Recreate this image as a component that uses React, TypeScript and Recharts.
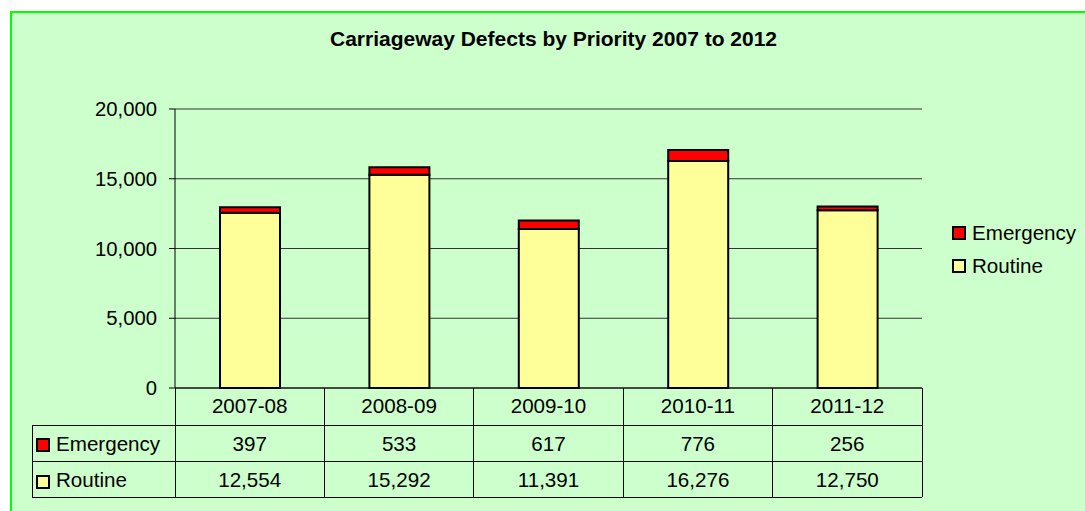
import { BarChart, Bar, XAxis, YAxis, CartesianGrid } from 'recharts';

const years = ['2007-08', '2008-09', '2009-10', '2010-11', '2011-12'];
const emergency = [397, 533, 617, 776, 256];
const routine = [12554, 15292, 11391, 16276, 12750];
const yTicks = [0, 5000, 10000, 15000, 20000];

const data = years.map((y, i) => ({ year: y, Emergency: emergency[i], Routine: routine[i] }));

const FONT = '"Liberation Sans", Arial, sans-serif';
const W = 1085;
const H = 511;
const PLOT_LEFT = 175;
const PLOT_RIGHT = 922;
const PLOT_TOP = 109;
const PLOT_BOTTOM = 388;
const BAND = (PLOT_RIGHT - PLOT_LEFT) / years.length;
const ROW1 = 425;
const ROW2 = 461;
const ROW3 = 497;
const LABEL_LEFT = 32;

const fmt = (v: number) => v.toLocaleString('en-US');

function Swatch({ x, y, fill }: { x: number; y: number; fill: string }) {
  return <rect x={x} y={y} width={12} height={12} fill={fill} stroke="#000" strokeWidth={2} />;
}

function TableTick(props: any) {
  const { x, payload, index } = props;
  const l = x - BAND / 2;
  const r = x + BAND / 2;
  const line = { stroke: '#000', strokeWidth: 1, shapeRendering: 'crispEdges' as const };
  return (
    <g fontFamily={FONT} fontSize={20.6} fill="#000">
      <line x1={l} y1={PLOT_BOTTOM} x2={l} y2={ROW3} {...line} />
      <line x1={r} y1={PLOT_BOTTOM} x2={r} y2={ROW3} {...line} />
      <line x1={l} y1={ROW1} x2={r} y2={ROW1} {...line} />
      <line x1={l} y1={ROW2} x2={r} y2={ROW2} {...line} />
      <line x1={l} y1={ROW3} x2={r} y2={ROW3} {...line} />
      <text x={x} y={413} textAnchor="middle">{payload.value}</text>
      <text x={x} y={451} textAnchor="middle">{fmt(emergency[index])}</text>
      <text x={x} y={487} textAnchor="middle">{fmt(routine[index])}</text>
      {index === 0 && (
        <g>
          <line x1={LABEL_LEFT} y1={ROW1} x2={l} y2={ROW1} {...line} />
          <line x1={LABEL_LEFT} y1={ROW2} x2={l} y2={ROW2} {...line} />
          <line x1={LABEL_LEFT} y1={ROW3} x2={l} y2={ROW3} {...line} />
          <line x1={LABEL_LEFT} y1={ROW1} x2={LABEL_LEFT} y2={ROW3} {...line} />
          <Swatch x={37} y={439} fill="#FF0000" />
          <text x={56} y={451}>Emergency</text>
          <Swatch x={37} y={476} fill="#FFFF99" />
          <text x={56} y={487}>Routine</text>
        </g>
      )}
    </g>
  );
}

function SideLegend() {
  const items = [
    { name: 'Emergency', color: '#FF0000' },
    { name: 'Routine', color: '#FFFF99' },
  ];
  return (
    <div style={{ position: 'absolute', left: 952, top: 216, fontFamily: FONT, fontSize: 20.6, color: '#000' }}>
      {items.map((it) => (
        <div key={it.name} style={{ display: 'flex', alignItems: 'center', height: 33 }}>
          <span
            style={{
              display: 'inline-block',
              width: 10,
              height: 10,
              background: it.color,
              border: '2px solid #000',
              marginRight: 6,
            }}
          />
          {it.name}
        </div>
      ))}
    </div>
  );
}

export default function App() {
  return (
    <div style={{ position: 'fixed', left: 0, top: 0, width: W, height: H, background: '#fff', overflow: 'hidden' }}>
      <div
        style={{
          position: 'absolute',
          left: 10,
          top: 11,
          width: 1100,
          height: 520,
          background: '#CCFFCC',
          border: '2px solid #00FF00',
        }}
      />
      <div
        style={{
          position: 'absolute',
          left: 0,
          top: 27,
          width: 1107,
          textAlign: 'center',
          fontFamily: FONT,
          fontSize: 21,
          fontWeight: 'bold',
          color: '#000',
        }}
      >
        Carriageway Defects by Priority 2007 to 2012
      </div>
      <div style={{ position: 'absolute', left: 0, top: 0 }}>
        <BarChart
          width={W}
          height={H}
          data={data}
          margin={{ top: PLOT_TOP, right: W - PLOT_RIGHT, left: 0, bottom: 0 }}
        >
          <CartesianGrid vertical={false} stroke="#333" strokeWidth={1} />
          <XAxis
            dataKey="year"
            height={H - PLOT_BOTTOM}
            axisLine={{ stroke: '#000' }}
            tickLine={false}
            tickSize={0}
            tickMargin={0}
            interval={0}
            tick={<TableTick />}
          />
          <YAxis
            width={PLOT_LEFT}
            domain={[0, 20000]}
            ticks={yTicks}
            tickFormatter={fmt}
            axisLine={{ stroke: '#000' }}
            tickLine={{ stroke: '#000' }}
            tickSize={6}
            tickMargin={12}
            tick={{ fill: '#000', fontSize: 20.3, fontFamily: FONT }}
          />
          <Bar dataKey="Routine" stackId="a" fill="#FFFF99" stroke="#000" strokeWidth={2} barSize={60} isAnimationActive={false} />
          <Bar dataKey="Emergency" stackId="a" fill="#FF0000" stroke="#000" strokeWidth={2} barSize={60} isAnimationActive={false} />
        </BarChart>
      </div>
      <SideLegend />
    </div>
  );
}
